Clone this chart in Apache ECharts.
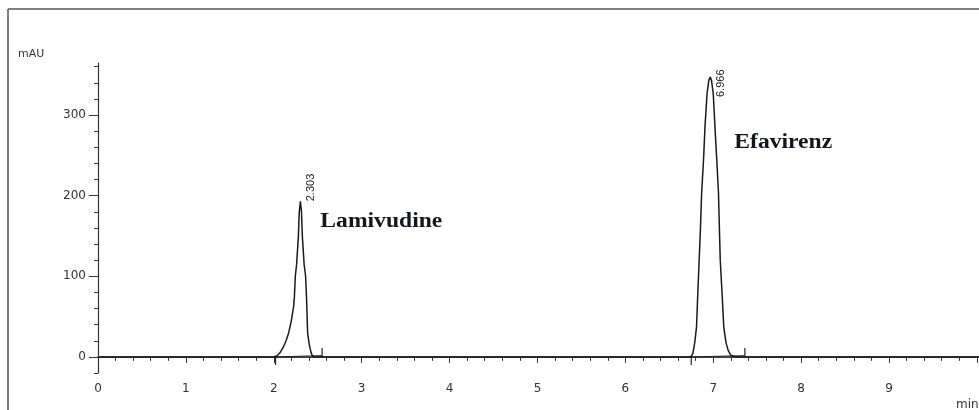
<!DOCTYPE html>
<html><head><meta charset="utf-8">
<script src="https://cdn.jsdelivr.net/npm/echarts@6/dist/echarts.min.js"></script>
<style>html,body{margin:0;padding:0;background:#fff}#c{width:979px;height:410px}</style>
</head><body><div id="c"></div>
<script>
// ---- data ----
const timeMin = [0, 2.00, 2.03, 2.07, 2.108, 2.14, 2.17, 2.20, 2.225, 2.235, 2.245, 2.26, 2.28, 2.29, 2.303, 2.315, 2.325, 2.345, 2.362, 2.372, 2.378, 2.385, 2.40, 2.41, 2.425, 2.44, 2.47,
  6.72, 6.75, 6.77, 6.79, 6.81, 6.825, 6.84, 6.855, 6.868, 6.89, 6.906, 6.93, 6.95, 6.966, 6.98, 7.00, 7.02, 7.04, 7.06, 7.07, 7.08, 7.10, 7.12, 7.145, 7.17, 7.20, 7.24, 7.28, 10.024];
const signalMAU = [0, 0, 0.5, 5, 12, 20, 30, 45, 62, 75, 100, 115, 150, 180, 193, 180, 150, 115, 100, 75, 55, 30, 18, 12, 5, 1, 0,
  0, 0.5, 5, 18, 37, 80, 120, 160, 203, 245, 285, 327, 343, 347, 343, 327, 285, 245, 203, 160, 120, 80, 37, 18, 8, 2, 0.5, 0, 0];
const peakRT = [2.303, 6.966];
const peakApex = [193, 347];
const peakNames = ['Lamivudine', 'Efavirenz'];
const peakStart = [2.02, 6.75];
const peakEnd = [2.55, 7.36];
const xTickLabels = ['0', '1', '2', '3', '4', '5', '6', '7', '8', '9'];
const yTickLabels = [0, 100, 200, 300];
const yUnit = 'mAU';
const xUnit = 'min';

// ---- layout ----
const GL = 98, GT = 63, GB = 37;
const nameAnchor = [[2.53, 167], [7.24, 266]];

const chart = echarts.init(document.getElementById('c'), null, {renderer: 'canvas'});
const axisColor = '#333';
const lblFont = {fontFamily: 'DejaVu Sans', fontSize: 12, color: '#333'};

const series = [{
  type: 'line', data: timeMin.map((t, i) => [t, signalMAU[i]]),
  showSymbol: false, symbol: 'none', lineStyle: {color: '#1a1a1a', width: 1.5}, z: 5, silent: true
}];
peakStart.forEach((s, i) => {
  const e = peakEnd[i];
  series.push({type: 'line', data: [[s, 0], [e, 1.5]], symbol: 'none', lineStyle: {color: '#222', width: 1}, z: 4, silent: true});
  series.push({type: 'line', data: [[s, -10], [s, 2]], symbol: 'none', lineStyle: {color: '#222', width: 1.2}, z: 4, silent: true});
  series.push({type: 'line', data: [[e, 0], [e, 11]], symbol: 'none', lineStyle: {color: '#222', width: 1.2}, z: 4, silent: true});
});

chart.setOption({
  animation: false,
  grid: {left: GL, right: 0, top: GT, bottom: GB, outerBoundsMode: 'none', containLabel: false},
  xAxis: [{
    type: 'value', min: 0, max: 10.024, interval: 1, position: 'bottom',
    axisLine: {show: true, lineStyle: {color: axisColor, width: 1.2}},
    axisTick: {show: true, length: 6, lineStyle: {color: axisColor}},
    minorTick: {show: true, splitNumber: 5, length: 4, lineStyle: {color: axisColor}},
    axisLabel: Object.assign({margin: 10, showMaxLabel: false,
      formatter: v => { const k = Math.round(v); return (Math.abs(v - k) < 1e-6 && k < xTickLabels.length) ? xTickLabels[k] : ''; }}, lblFont),
    splitLine: {show: false}
  }, {
    type: 'value', min: 0, max: 10.024, position: 'top',
    axisLine: {show: true, lineStyle: {color: '#444', width: 1.5}},
    axisTick: {show: false}, axisLabel: {show: false}, splitLine: {show: false}
  }],
  yAxis: [{
    type: 'value', min: -20, max: 364.5, interval: 20, position: 'left',
    axisLine: {show: true, lineStyle: {color: axisColor, width: 1.2}},
    axisTick: {show: true, length: 4, lineStyle: {color: axisColor}},
    axisLabel: Object.assign({margin: 12, showMaxLabel: false,
      formatter: v => yTickLabels.indexOf(Math.round(v)) >= 0 ? String(Math.round(v)) : ''}, lblFont),
    splitLine: {show: false}
  }, {
    type: 'value', min: -20, max: 364.5, position: 'left',
    axisLine: {show: false},
    axisTick: {show: true, length: 9, customValues: yTickLabels, lineStyle: {color: axisColor}},
    axisLabel: {show: false}, splitLine: {show: false}
  }],
  series: series
});

const gr = [
  {type: 'line', shape: {x1: 8, y1: 9, x2: 8, y2: 410}, style: {stroke: '#555', lineWidth: 1.5}},
  {type: 'line', shape: {x1: 8, y1: 9, x2: 979, y2: 9}, style: {stroke: '#555', lineWidth: 1.5}},
  {type: 'text', x: 18, y: 54, style: {text: yUnit, font: '11px "DejaVu Sans"', fill: '#333', align: 'left', verticalAlign: 'middle'}},
  {type: 'text', x: 956, y: 405, style: {text: xUnit, font: '12px "DejaVu Sans"', fill: '#333', align: 'left', verticalAlign: 'middle'}}
];
peakRT.forEach((t, i) => {
  const p = chart.convertToPixel({xAxisIndex: 0, yAxisIndex: 0}, [t, peakApex[i]]);
  gr.push({type: 'text', x: p[0] + 11, y: Math.max(p[1], GT + 34), rotation: Math.PI / 2,
    style: {text: t.toFixed(3), font: '11px "Liberation Sans"', fill: '#222', align: 'left', verticalAlign: 'middle'}});
  const q = chart.convertToPixel({xAxisIndex: 0, yAxisIndex: 0}, nameAnchor[i]);
  gr.push({type: 'text', x: q[0], y: q[1], scaleX: 1.18,
    style: {text: peakNames[i], font: 'bold 20px "Liberation Serif"', fill: '#15151f', align: 'left', verticalAlign: 'middle'}});
});
chart.setOption({graphic: gr});
</script>
</body></html>
